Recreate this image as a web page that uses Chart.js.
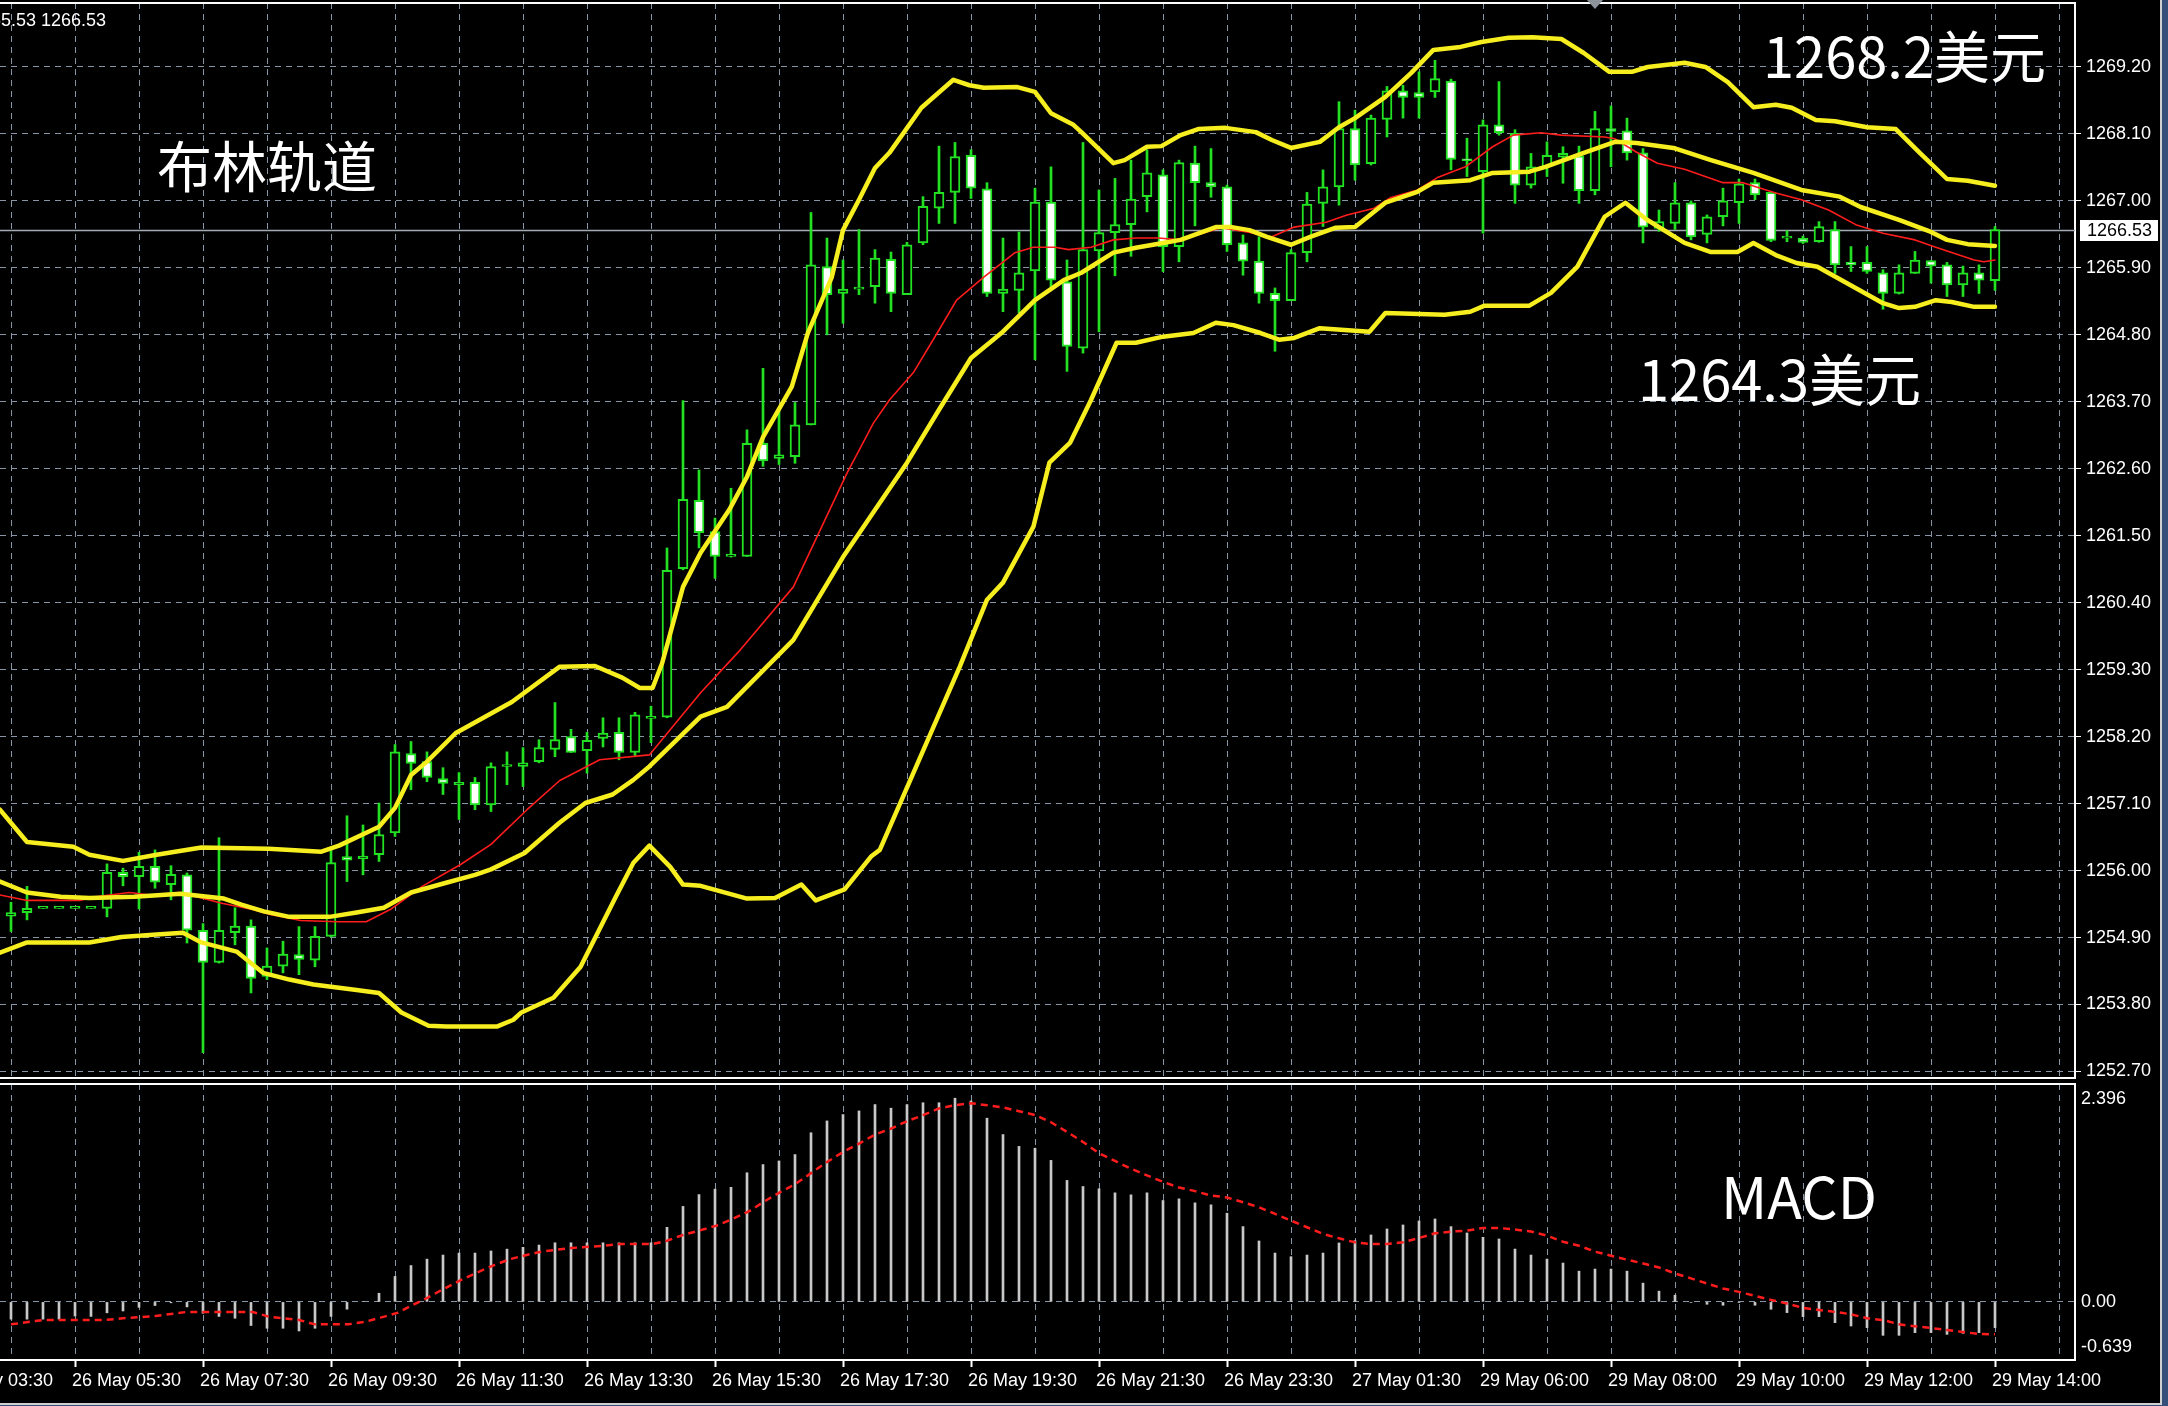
<!DOCTYPE html>
<html>
<head>
<meta charset="utf-8">
<title>布林轨道</title>
<script src="https://cdn.jsdelivr.net/npm/chart.js@4.4.0/dist/chart.umd.min.js"></script>
<style>
  html, body { margin: 0; padding: 0; }
  body { width: 2168px; height: 1406px; background: #34507a; overflow: hidden; position: relative; }
  #win { position: absolute; left: 0; top: 0; width: 2160px; height: 1403px; background: #000;
         border-right: 2px solid #cfcfcf; border-bottom: 2px solid #cfcfcf; overflow: hidden; }
  canvas { position: absolute; left: 0; }
  #priceCanvas { top: 0; }
  #macdCanvas { top: 1080px; }
  .note { position: absolute; color: #fff; font-family: "Noto Sans CJK SC", sans-serif; white-space: nowrap; line-height: 1; }
  #header { position: absolute; left: -294px; width: 400px; top: 10px; text-align: right; color: #fff;
            font: 18px "Liberation Sans", sans-serif; white-space: nowrap; }
  #marker { position: absolute; left: 1587px; top: 0; width: 0; height: 0;
            border-left: 8px solid transparent; border-right: 8px solid transparent; border-top: 9px solid #8c939b; }
</style>
</head>
<body>
<div id="win">
  <canvas id="priceCanvas" width="2160" height="1080"></canvas>
  <canvas id="macdCanvas" width="2160" height="323"></canvas>
  <div id="header">XAUUSD,M15 1265.69 1266.58 1265.53 1266.53</div>
  <div id="marker"></div>
  <div class="note" style="left:157px; top:136px; font-size:55px;">布林轨道</div>
  <div class="note" style="left:1763px; top:26px; font-size:56px;">1268.2美元</div>
  <div class="note" style="left:1638px; top:349px; font-size:56px;">1264.3美元</div>
  <div class="note" style="left:1721px; top:1166px; font-size:57px;">MACD</div>
</div>
<script>
// 15 分钟K线, 索引 0..124
const xLabels = ['26 May 03:30', '26 May 05:30', '26 May 07:30', '26 May 09:30', '26 May 11:30',
  '26 May 13:30', '26 May 15:30', '26 May 17:30', '26 May 19:30', '26 May 21:30', '26 May 23:30',
  '27 May 01:30', '29 May 06:00', '29 May 08:00', '29 May 10:00', '29 May 12:00', '29 May 14:00'];
const priceTicks = [1252.70, 1253.80, 1254.90, 1256.00, 1257.10, 1258.20, 1259.30, 1260.40,
  1261.50, 1262.60, 1263.70, 1264.80, 1265.90, 1267.00, 1268.10, 1269.20];
const macdTicks = [-0.639, 0, 2.396];

const opens = [1255.25,1255.31,1255.38,1255.38,1255.38,1255.38,1255.38,1255.97,1255.90,1256.07,
  1255.77,1255.93,1255.02,1254.49,1254.98,1255.09,1254.26,1254.43,1254.62,1254.53,
  1254.92,1256.23,1256.19,1256.26,1256.62,1257.92,1257.79,1257.51,1257.41,1257.45,
  1257.08,1257.71,1257.71,1257.79,1257.99,1258.20,1257.97,1258.17,1258.27,1257.94,
  1258.50,1258.52,1260.96,1262.08,1261.57,1261.16,1261.16,1263.02,1262.77,1262.80,
  1263.32,1265.92,1265.48,1265.55,1265.59,1266.04,1265.46,1266.31,1266.88,1267.14,
  1267.75,1267.20,1265.48,1265.53,1265.85,1266.98,1265.67,1264.58,1266.18,1266.48,
  1266.61,1267.07,1267.43,1266.25,1267.62,1267.30,1267.23,1266.31,1266.01,1265.48,
  1265.36,1266.15,1266.96,1267.23,1268.19,1267.61,1268.34,1268.81,1268.78,1268.79,
  1268.97,1267.68,1267.48,1268.25,1268.11,1267.26,1267.56,1267.72,1267.74,1267.17,
  1268.19,1268.15,1267.79,1266.55,1266.63,1266.97,1266.45,1266.74,1266.97,1267.30,
  1267.14,1266.39,1266.39,1266.33,1266.53,1265.99,1265.99,1265.82,1265.48,1265.81,
  1266.02,1265.95,1265.62,1265.82,1265.69];
const highs = [1255.48,1255.74,1255.38,1255.38,1255.38,1255.38,1256.11,1256.04,1256.30,1256.34,
  1256.08,1255.96,1255.13,1256.54,1255.39,1255.19,1254.73,1254.84,1255.08,1255.08,
  1256.34,1256.90,1256.75,1257.11,1258.07,1258.12,1257.95,1257.69,1257.61,1257.53,
  1257.77,1257.95,1258.02,1258.15,1258.76,1258.32,1258.27,1258.51,1258.51,1258.60,
  1258.70,1261.30,1263.72,1262.58,1261.79,1262.28,1263.24,1264.25,1263.60,1263.69,
  1266.81,1266.39,1266.03,1266.53,1266.20,1266.16,1266.32,1267.07,1267.90,1267.96,
  1267.84,1267.30,1266.39,1266.49,1267.21,1267.56,1266.03,1267.96,1267.18,1267.37,
  1267.67,1267.84,1267.51,1267.67,1267.90,1267.86,1267.26,1266.44,1266.41,1265.57,
  1266.20,1267.14,1267.51,1268.63,1268.49,1268.41,1268.88,1268.90,1269.12,1269.31,
  1269.00,1268.03,1268.33,1268.96,1268.17,1267.78,1267.97,1267.89,1267.90,1268.47,
  1268.56,1268.36,1267.86,1266.85,1267.30,1267.00,1266.77,1267.21,1267.36,1267.36,
  1267.14,1266.51,1266.42,1266.66,1266.66,1266.25,1266.25,1265.87,1265.95,1266.17,
  1266.02,1265.99,1265.93,1265.95,1266.58];
const lows = [1255.00,1255.19,1255.38,1255.38,1255.38,1255.38,1255.24,1255.75,1255.37,1255.71,
  1255.52,1254.81,1253.01,1254.48,1254.78,1253.99,1254.21,1254.32,1254.29,1254.42,
  1254.91,1255.82,1255.93,1256.15,1256.56,1257.33,1257.46,1257.25,1256.84,1257.00,
  1256.97,1257.41,1257.38,1257.77,1257.87,1257.94,1257.60,1258.03,1257.82,1257.87,
  1258.10,1258.51,1260.94,1261.30,1260.80,1261.15,1261.16,1262.64,1262.67,1262.69,
  1263.32,1264.80,1264.99,1265.46,1265.32,1265.18,1265.46,1266.28,1266.63,1266.63,
  1267.04,1265.43,1265.18,1265.16,1264.39,1265.59,1264.20,1264.50,1264.85,1265.77,
  1266.09,1266.82,1265.84,1266.00,1266.59,1267.06,1266.17,1265.78,1265.32,1264.53,
  1265.36,1266.00,1266.58,1266.93,1267.34,1267.59,1268.05,1268.36,1268.36,1268.70,
  1267.51,1267.40,1266.47,1268.08,1266.96,1267.21,1267.40,1267.29,1266.96,1267.10,
  1267.56,1267.67,1266.31,1266.50,1266.53,1266.36,1266.31,1266.59,1266.63,1267.02,
  1266.33,1266.33,1266.30,1266.32,1265.81,1265.84,1265.81,1265.22,1265.47,1265.81,
  1265.65,1265.43,1265.43,1265.48,1265.53];
const closes = [1255.31,1255.38,1255.38,1255.38,1255.38,1255.38,1255.97,1255.90,1256.07,1255.81,
  1255.94,1255.02,1254.49,1255.02,1255.09,1254.23,1254.43,1254.63,1254.54,1254.92,
  1256.13,1256.17,1256.24,1256.59,1257.95,1257.76,1257.53,1257.43,1257.45,1257.08,
  1257.71,1257.74,1257.77,1258.02,1258.15,1257.94,1258.14,1258.26,1257.94,1258.56,
  1258.53,1260.93,1262.10,1261.55,1261.16,1261.16,1263.02,1262.73,1262.83,1263.32,
  1265.95,1265.46,1265.55,1265.55,1266.06,1265.48,1266.28,1266.91,1267.14,1267.73,
  1267.21,1265.48,1265.55,1265.82,1266.98,1265.70,1264.61,1266.20,1266.48,1266.61,
  1267.03,1267.46,1266.25,1267.63,1267.30,1267.23,1266.28,1266.01,1265.48,1265.36,
  1266.15,1266.95,1267.23,1268.19,1267.59,1268.36,1268.81,1268.70,1268.70,1269.01,
  1267.68,1267.66,1268.25,1268.12,1267.26,1267.56,1267.75,1267.78,1267.17,1268.19,
  1268.14,1267.79,1266.57,1266.66,1266.97,1266.41,1266.74,1267.00,1267.28,1267.10,
  1266.35,1266.39,1266.32,1266.58,1265.95,1265.95,1265.84,1265.48,1265.82,1266.03,
  1265.93,1265.62,1265.82,1265.70,1266.53];

// 布林带与均线: [K线索引, 价格]
const upperBand = [[-0.69,1257.00],[1.0,1256.47],[3.9,1256.39],[4.9,1256.26],[7.0,1256.16],[9.1,1256.26],
  [11.9,1256.38],[16.1,1256.36],[19.4,1256.31],[20.5,1256.41],[23.0,1256.72],[24.0,1257.03],[25.0,1257.57],
  [26.0,1257.79],[27.8,1258.26],[31.3,1258.77],[34.3,1259.35],[36.5,1259.36],[38.2,1259.17],[39.3,1259.00],
  [40.1,1259.00],[40.7,1259.41],[42.0,1260.66],[43.1,1261.22],[44.9,1261.93],[46.0,1262.47],[47.0,1263.12],
  [48.8,1263.95],[49.8,1264.83],[51.3,1265.75],[52.0,1266.52],[53.0,1267.02],[54.0,1267.54],[54.9,1267.79],
  [56.9,1268.53],[58.9,1268.99],[59.9,1268.90],[60.8,1268.86],[62.9,1268.87],[64.0,1268.79],[65.0,1268.44],
  [66.4,1268.25],[66.9,1268.13],[68.9,1267.62],[69.6,1267.67],[71.0,1267.89],[71.9,1267.90],[73.1,1268.08],
  [74.2,1268.18],[75.9,1268.20],[77.8,1268.13],[78.8,1268.00],[80.0,1267.87],[81.8,1267.97],[83.0,1268.21],
  [84.0,1268.36],[85.9,1268.71],[87.5,1269.10],[88.9,1269.48],[90.6,1269.53],[91.9,1269.61],[93.6,1269.68],
  [95.1,1269.69],[96.9,1269.66],[98.3,1269.43],[99.9,1269.12],[101.3,1269.12],[102.3,1269.20],[104.6,1269.27],
  [105.9,1269.20],[107.3,1268.95],[108.9,1268.54],[110.3,1268.58],[111.3,1268.53],[112.8,1268.33],[114.0,1268.31],
  [116.0,1268.21],[117.8,1268.18],[119.3,1267.79],[121.0,1267.36],[122.3,1267.33],[124.0,1267.25]];
const midBand = [[-0.69,1255.82],[1.0,1255.64],[3.1,1255.57],[4.9,1255.55],[7.7,1255.57],[10.6,1255.62],
  [11.3,1255.60],[13.3,1255.54],[14.4,1255.44],[15.8,1255.33],[17.4,1255.24],[19.9,1255.24],[21.6,1255.31],
  [23.3,1255.39],[25.0,1255.64],[27.2,1255.80],[29.0,1255.93],[30.0,1256.02],[32.1,1256.29],[34.3,1256.79],
  [35.9,1257.11],[37.6,1257.25],[38.9,1257.49],[39.9,1257.71],[43.1,1258.53],[44.75,1258.69],[48.9,1259.79],
  [52.0,1261.15],[56.0,1262.70],[58.0,1263.57],[60.0,1264.42],[61.9,1264.83],[64.0,1265.37],[65.8,1265.70],
  [66.9,1265.82],[68.9,1266.15],[70.3,1266.23],[72.0,1266.31],[73.1,1266.36],[75.3,1266.57],[76.3,1266.57],
  [77.4,1266.52],[78.5,1266.41],[80.0,1266.28],[81.2,1266.41],[82.8,1266.56],[84.0,1266.57],[85.9,1266.97],
  [87.9,1267.15],[88.9,1267.30],[91.2,1267.34],[92.6,1267.46],[94.9,1267.48],[95.9,1267.56],[98.3,1267.79],
  [100.25,1267.97],[101.6,1267.95],[103.9,1267.87],[106.25,1267.67],[108.9,1267.46],[111.9,1267.18],
  [114.3,1267.07],[115.6,1266.90],[118.0,1266.69],[120.0,1266.49],[121.0,1266.36],[122.3,1266.29],[124.0,1266.26]];
const lowerBand = [[-0.69,1254.65],[1.0,1254.82],[4.9,1254.82],[6.9,1254.91],[9.1,1254.95],[10.75,1254.98],
  [11.9,1254.82],[14.1,1254.67],[15.75,1254.32],[17.4,1254.21],[18.9,1254.13],[21.6,1254.04],[23.0,1253.99],
  [24.4,1253.67],[26.1,1253.45],[27.2,1253.44],[30.4,1253.44],[31.4,1253.55],[31.9,1253.67],[33.9,1253.91],
  [35.6,1254.42],[37.8,1255.57],[38.9,1256.13],[39.9,1256.41],[41.2,1256.06],[42.0,1255.77],[43.1,1255.75],
  [46.0,1255.54],[47.75,1255.55],[49.4,1255.77],[50.3,1255.51],[52.1,1255.69],[53.75,1256.23],[54.3,1256.34],
  [59.3,1259.35],[61.0,1260.45],[62.0,1260.73],[63.9,1261.65],[64.9,1262.70],[66.2,1263.03],[67.5,1263.73],
  [69.1,1264.67],[70.3,1264.67],[72.0,1264.77],[73.9,1264.83],[75.3,1265.00],[76.4,1264.96],[78.1,1264.83],
  [79.25,1264.72],[80.2,1264.75],[81.8,1264.91],[84.9,1264.85],[85.9,1265.16],[89.6,1265.13],[91.2,1265.18],
  [92.1,1265.28],[94.9,1265.28],[96.25,1265.49],[97.9,1265.92],[99.6,1266.74],[100.9,1266.97],[102.25,1266.69],
  [104.6,1266.31],[106.25,1266.16],[107.9,1266.16],[108.9,1266.31],[110.3,1266.11],[111.6,1265.98],[112.9,1265.92],
  [117.0,1265.32],[118.0,1265.24],[119.0,1265.26],[120.3,1265.37],[121.3,1265.34],[122.7,1265.26],[124.0,1265.26]];
const redMA = [[-0.69,1255.60],[1.0,1255.51],[4.3,1255.51],[5.3,1255.57],[7.4,1255.64],[8.7,1255.60],
  [10.5,1255.64],[11.9,1255.55],[13.25,1255.46],[15.1,1255.36],[16.2,1255.28],[18.1,1255.18],[20.4,1255.16],
  [22.2,1255.16],[23.7,1255.36],[25.7,1255.74],[28.1,1256.10],[30.0,1256.43],[32.25,1257.00],[34.3,1257.48],
  [36.8,1257.82],[39.9,1257.90],[43.1,1258.92],[45.6,1259.63],[48.9,1260.66],[52.25,1262.53],[53.9,1263.35],
  [54.9,1263.73],[56.4,1264.18],[58.0,1264.88],[59.1,1265.37],[60.8,1265.75],[62.75,1266.15],[63.9,1266.24],
  [65.25,1266.24],[66.1,1266.20],[67.5,1266.24],[68.9,1266.36],[70.3,1266.39],[71.7,1266.39],[73.1,1266.36],
  [74.5,1266.47],[75.6,1266.56],[77.25,1266.49],[78.8,1266.41],[80.2,1266.57],[82.2,1266.65],[83.5,1266.77],
  [85.2,1266.88],[86.2,1267.05],[87.9,1267.18],[89.2,1267.39],[90.9,1267.56],[92.6,1267.89],[93.9,1268.08],
  [95.6,1268.12],[96.9,1268.08],[99.6,1268.05],[100.25,1268.02],[101.6,1267.80],[102.9,1267.62],[104.6,1267.52],
  [107.0,1267.30],[108.25,1267.30],[110.3,1267.13],[111.9,1267.02],[113.6,1266.85],[115.3,1266.61],
  [117.0,1266.47],[119.0,1266.36],[120.3,1266.24],[122.7,1266.03],[123.3,1266.00],[124.0,1266.03]];

// MACD
const macdHist = [-0.19,-0.19,-0.19,-0.19,-0.155,-0.16,-0.12,-0.10,-0.06,-0.04,
  -0.01,-0.055,-0.125,-0.16,-0.18,-0.26,-0.29,-0.29,-0.32,-0.29,
  -0.16,-0.08,0.005,0.095,0.28,0.40,0.47,0.515,0.537,0.537,
  0.56,0.58,0.60,0.625,0.65,0.65,0.65,0.65,0.65,0.65,
  0.65,0.82,1.05,1.18,1.24,1.26,1.42,1.51,1.55,1.62,
  1.86,1.99,2.06,2.10,2.17,2.13,2.17,2.19,2.19,2.24,
  2.21,2.02,1.84,1.71,1.69,1.556,1.336,1.269,1.244,1.199,
  1.177,1.199,1.115,1.133,1.089,1.067,0.975,0.828,0.670,0.537,
  0.497,0.515,0.537,0.648,0.673,0.736,0.802,0.846,0.890,0.912,
  0.828,0.758,0.710,0.692,0.581,0.515,0.471,0.427,0.338,0.361,
  0.361,0.338,0.206,0.118,0.074,-0.005,-0.026,-0.037,-0.007,-0.037,
  -0.081,-0.118,-0.162,-0.162,-0.228,-0.265,-0.283,-0.368,-0.368,-0.338,
  -0.338,-0.357,-0.346,-0.338,-0.283];
const macdSignal = [[0.0,-0.247],[2.0,-0.199],[5.9,-0.199],[7.0,-0.18],[9.05,-0.155],[11.0,-0.11],[15.1,-0.11],
  [16.1,-0.162],[18.0,-0.199],[19.0,-0.247],[21.1,-0.247],[22.1,-0.22],[23.1,-0.173],[24.2,-0.118],[25.0,-0.044],
  [26.05,0.048],[27.1,0.147],[28.1,0.239],[29.15,0.324],[30.2,0.405],[31.2,0.471],[32.05,0.508],[33.1,0.552],
  [35.0,0.592],[37.05,0.618],[38.1,0.636],[40.1,0.636],[41.0,0.673],[42.0,0.736],[43.0,0.784],[44.1,0.839],
  [45.1,0.912],[46.2,1.004],[47.0,1.096],[48.0,1.199],[49.05,1.299],[50.0,1.416],[51.0,1.538],[52.0,1.648],
  [53.0,1.740],[54.0,1.840],[55.0,1.906],[56.0,1.987],[57.0,2.053],[58.0,2.127],[59.0,2.163],[60.0,2.185],
  [61.0,2.163],[62.0,2.138],[63.0,2.097],[64.0,2.055],[65.0,1.975],[66.0,1.869],[67.0,1.759],[68.0,1.635],
  [69.0,1.55],[70.0,1.464],[71.0,1.391],[72.0,1.32],[73.0,1.258],[74.0,1.218],[75.0,1.170],[76.0,1.148],
  [77.0,1.096],[78.0,1.041],[79.0,0.968],[80.0,0.894],[81.0,0.821],[82.0,0.747],[83.0,0.699],[84.0,0.655],
  [85.0,0.637],[86.0,0.637],[87.0,0.655],[88.0,0.703],[89.0,0.754],[90.0,0.773],[91.0,0.784],[92.0,0.813],
  [93.0,0.813],[94.0,0.795],[95.0,0.773],[96.0,0.728],[97.0,0.662],[98.0,0.618],[99.0,0.552],[100.0,0.508],
  [101.0,0.464],[102.0,0.423],[103.0,0.379],[104.0,0.313],[105.0,0.258],[106.0,0.202],[107.0,0.147],
  [108.0,0.110],[109.0,0.066],[110.0,0.022],[111.0,-0.018],[112.0,-0.066],[113.0,-0.088],[114.0,-0.110],
  [115.0,-0.136],[116.0,-0.180],[117.0,-0.199],[118.0,-0.247],[119.0,-0.269],[120.0,-0.287],[121.0,-0.309],
  [122.0,-0.331],[123.0,-0.353],[124.0,-0.357]];

const GREEN = '#22e022';
const YELLOW = '#f6ee1e';
const RED = '#ff1c1c';
const GRID = '#8795a4';
const X_MIN = -0.6875, X_MAX = 129;
const lastPrice = closes[closes.length - 1];

Chart.defaults.font.family = '"Liberation Sans", sans-serif';

const gridIdx = [];
for (let v = 0; v <= 128; v += 4) gridIdx.push(v);

const toXY = arr => arr.map(([x, y]) => ({ x, y }));
const lineSet = (arr, color, width) => ({
  type: 'line', data: toXY(arr), borderColor: color, borderWidth: width,
  pointRadius: 0, tension: 0, fill: false, borderJoinStyle: 'round', borderCapStyle: 'round'
});

const wickData = opens.map((o, i) => ({ x: i, y: [lows[i], highs[i]] }));
const bodyData = opens.map((o, i) => ({ x: i, y: [o, closes[i]] }));
const bodyFill = opens.map((o, i) => closes[i] < o ? '#ffffff' : '#000000');

const noPad = s => { s.paddingLeft = 0; s.paddingRight = 0; s.paddingTop = 0; s.paddingBottom = 0; };

function xAxis(withLabels) {
  return {
    type: 'linear', min: X_MIN, max: X_MAX, offset: false, position: 'bottom',
    afterBuildTicks: s => { s.ticks = gridIdx.map(v => ({ value: v })); },
    afterFit: s => { s.height = withLabels ? 43 : 0; noPad(s); },
    ticks: {
      display: withLabels, color: '#ffffff', font: { size: 18 }, padding: 3,
      align: 'start', labelOffset: -3, maxRotation: 0, minRotation: 0, autoSkip: false,
      callback: v => { const k = (v + 4) / 8; return Number.isInteger(k) ? xLabels[k] : ''; }
    },
    grid: {
      color: GRID, lineWidth: 1, offset: false, drawTicks: withLabels, tickLength: 7, tickWidth: 2,
      tickBorderDash: [],
      tickColor: c => (c.tick && Number.isInteger((c.tick.value + 4) / 8)) ? '#ffffff' : 'rgba(0,0,0,0)'
    },
    border: { display: true, color: '#ffffff', width: 2, dash: [6, 5] }
  };
}

// 价格主图
const priceFrame = {
  id: 'priceFrame',
  beforeDatasetsDraw(chart) {
    const { ctx, chartArea: a, scales: { y } } = chart;
    const py = Math.round(y.getPixelForValue(lastPrice)) + 0.5;
    ctx.save();
    ctx.strokeStyle = '#a3acb6';
    ctx.lineWidth = 1.5;
    ctx.beginPath(); ctx.moveTo(a.left, py); ctx.lineTo(a.right, py); ctx.stroke();
    ctx.restore();
  },
  afterDraw(chart) {
    const { ctx, chartArea: a, scales: { y } } = chart;
    ctx.save();
    ctx.fillStyle = '#ffffff';
    ctx.fillRect(0, a.top - 1, a.right + 1, 2);
    const py = Math.round(y.getPixelForValue(lastPrice));
    ctx.fillRect(a.right + 5, py - 10, 78, 21);
    ctx.fillStyle = '#000000';
    ctx.font = '18px "Liberation Sans", sans-serif';
    ctx.textBaseline = 'middle';
    ctx.fillText(lastPrice.toFixed(2), a.right + 12, py + 1);
    ctx.restore();
  }
};

new Chart(document.getElementById('priceCanvas'), {
  type: 'bar',
  data: {
    datasets: [
      lineSet(upperBand, YELLOW, 4.5),
      lineSet(midBand, YELLOW, 4.5),
      lineSet(lowerBand, YELLOW, 4.5),
      lineSet(redMA, RED, 1.6),
      { type: 'bar', data: bodyData, backgroundColor: bodyFill, borderColor: GREEN, borderWidth: 2,
        borderSkipped: false, barThickness: 10, minBarLength: 2, grouped: false },
      { type: 'bar', data: wickData, backgroundColor: GREEN, borderWidth: 0, barThickness: 2, grouped: false }
    ]
  },
  options: {
    responsive: false, animation: false, devicePixelRatio: 1, events: [],
    layout: { padding: { top: 3, bottom: 2, left: 0, right: 0 } },
    plugins: { legend: { display: false }, tooltip: { enabled: false } },
    scales: {
      x: xAxis(false),
      y: {
        type: 'linear', position: 'right', min: 1252.593, max: 1270.251,
        afterBuildTicks: s => { s.ticks = priceTicks.map(v => ({ value: v })); },
        afterFit: s => { s.width = 85; noPad(s); },
        ticks: { color: '#ffffff', font: { size: 18 }, padding: 5, callback: v => v.toFixed(2) },
        grid: { color: GRID, lineWidth: 1, drawTicks: true, tickLength: 6, tickColor: '#ffffff', tickWidth: 1, tickBorderDash: [] },
        border: { display: true, color: '#ffffff', width: 2, dash: [6, 5] }
      }
    }
  },
  plugins: [priceFrame]
});

// MACD 副图
const macdFrame = {
  id: 'macdFrame',
  afterDraw(chart) {
    const { ctx, chartArea: a, scales: { x, y } } = chart;
    ctx.save();
    ctx.fillStyle = '#ffffff';
    ctx.fillRect(0, a.top - 1, a.right + 1, 2);
    ctx.font = '18px "Liberation Sans", sans-serif';
    ctx.textAlign = 'left';
    const lx = a.right + 6;
    ctx.textBaseline = 'top';
    ctx.fillText(macdTicks[2].toFixed(3), lx, a.top + 6);
    ctx.textBaseline = 'middle';
    ctx.fillText(macdTicks[1].toFixed(2), lx, y.getPixelForValue(macdTicks[1]));
    ctx.textBaseline = 'bottom';
    ctx.fillText(macdTicks[0].toFixed(3), lx, a.bottom - 4);
    // 左侧被截断的时间标签
    ctx.textBaseline = 'middle';
    ctx.fillText(xLabels[0], x.getPixelForValue(-4) - 3, x.top + 21);
    ctx.restore();
  }
};

new Chart(document.getElementById('macdCanvas'), {
  type: 'bar',
  data: {
    datasets: [
      { type: 'line', data: toXY(macdSignal), borderColor: RED, borderWidth: 2.5, borderDash: [7, 5],
        pointRadius: 0, tension: 0, fill: false },
      { type: 'bar', data: macdHist.map((v, i) => ({ x: i, y: v })), backgroundColor: '#c8c8c8',
        borderWidth: 0, barThickness: 2, grouped: false }
    ]
  },
  options: {
    responsive: false, animation: false, devicePixelRatio: 1, events: [],
    layout: { padding: { top: 4, bottom: 0, left: 0, right: 0 } },
    plugins: { legend: { display: false }, tooltip: { enabled: false } },
    scales: {
      x: xAxis(true),
      y: {
        type: 'linear', position: 'right', min: macdTicks[0], max: macdTicks[2],
        afterBuildTicks: s => { s.ticks = macdTicks.map(v => ({ value: v })); },
        afterFit: s => { s.width = 85; noPad(s); },
        ticks: { display: false },
        grid: { color: c => (c.tick && c.tick.value === 0) ? GRID : 'rgba(0,0,0,0)', lineWidth: 1, drawTicks: false },
        border: { display: true, color: '#ffffff', width: 2, dash: [6, 5] }
      }
    }
  },
  plugins: [macdFrame]
});
</script>
</body>
</html>
